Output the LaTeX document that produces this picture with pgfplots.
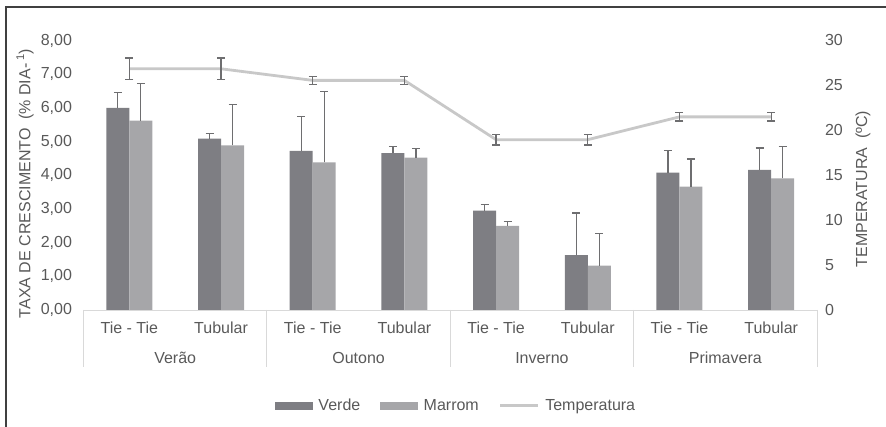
\documentclass[border=0pt]{standalone}
\usepackage{fontspec}
\setmainfont{Liberation Sans}
\usepackage{pgfplots}
\usepackage{pgfplotstable}
\pgfplotsset{compat=1.18}
\definecolor{verde}{RGB}{126,126,131}
\definecolor{marrom}{RGB}{166,166,169}
\definecolor{tempc}{RGB}{200,200,200}
\definecolor{errc}{RGB}{110,110,112}
\definecolor{txt}{RGB}{89,89,89}
\definecolor{gridc}{RGB}{217,217,217}
\newcommand{\fs}{\fontsize{16}{19}\selectfont}

\pgfplotstableread{
x verde ve marrom me temp te
0 6.00 0.45 5.62 1.11 26.85 1.2
1 5.09 0.15 4.89 1.21 26.85 1.2
2 4.72 1.02 4.38 2.10 25.56 0.45
3 4.66 0.20 4.52 0.27 25.56 0.45
4 2.95 0.18 2.50 0.12 18.96 0.6
5 1.63 1.25 1.32 0.96 18.96 0.6
6 4.08 0.65 3.66 0.82 21.50 0.45
7 4.16 0.65 3.91 0.95 21.50 0.45
}\data

\begin{document}
\begin{tikzpicture}[x=1pt,y=1pt]
\useasboundingbox (0,0) rectangle (886,427);
\draw[line width=1.3pt, black!75] (6,0) -- (6,420) -- (886,420);
\begin{axis}[
  at={(83.5pt,117pt)}, anchor=south west,
  scale only axis, width=733.5pt, height=269.5pt,
  xmin=-0.5, xmax=7.5, ymin=0, ymax=8,
  ybar=0pt, bar width=23pt,
  axis x line*=bottom, axis y line*=left,
  y axis line style={draw=none},
  x axis line style={draw=gridc, line width=0.8pt, -},
  xtick={0,...,7},
  xticklabels={Tie - Tie, Tubular, Tie - Tie, Tubular, Tie - Tie, Tubular, Tie - Tie, Tubular},
  ytick={0,1,...,8},
  major tick length=0pt,
  tick label style={font=\fs, text=txt},
  /pgf/number format/assume math mode=true,
  yticklabel style={/pgf/number format/fixed, /pgf/number format/fixed zerofill,
    /pgf/number format/precision=2, /pgf/number format/use comma, xshift=-8pt},
  xticklabel style={anchor=center, yshift=-18pt},
  clip=false,
  enlargelimits=false,
]
\addplot[fill=verde, draw=none,
  error bars/.cd, y dir=plus, y explicit,
  error bar style={errc, line width=1.3pt},
  error mark options={errc, line width=1.3pt, rotate=90, mark size=4pt}]
  table[x=x, y=verde, y error=ve]{\data};
\addplot[fill=marrom, draw=none,
  error bars/.cd, y dir=plus, y explicit,
  error bar style={errc, line width=1.3pt},
  error mark options={errc, line width=1.3pt, rotate=90, mark size=4pt}]
  table[x=x, y=marrom, y error=me]{\data};
\pgfplotsinvokeforeach{-0.5,1.5,3.5,5.5,7.5}{
  \draw[gridc, line width=0.8pt] (axis cs:#1,0) -- ([yshift=-57pt]axis cs:#1,0);
}
\node[font=\fs, text=txt] at ([yshift=-48pt]axis cs:0.5,0) {Verão};
\node[font=\fs, text=txt] at ([yshift=-48pt]axis cs:2.5,0) {Outono};
\node[font=\fs, text=txt] at ([yshift=-48pt]axis cs:4.5,0) {Inverno};
\node[font=\fs, text=txt] at ([yshift=-48pt]axis cs:6.5,0) {Primavera};
\end{axis}
\begin{axis}[
  at={(83.5pt,117pt)}, anchor=south west,
  scale only axis, width=733.5pt, height=269.5pt,
  xmin=-0.5, xmax=7.5, ymin=0, ymax=30,
  axis y line*=right, axis x line=none,
  y axis line style={draw=none},
  ytick={0,5,...,30},
  major tick length=0pt,
  tick label style={font=\fs, text=txt},
  /pgf/number format/assume math mode=true,
  yticklabel style={xshift=4.5pt},
  clip=false,
  enlargelimits=false,
  legend columns=3,
  legend style={at={(0.508,-0.355)}, anchor=center, draw=none, fill=none,
    font=\fs, text=txt,
    /tikz/every odd column/.append style={column sep=4pt},
    /tikz/every even column/.append style={column sep=18pt}},
]
\addlegendimage{legend image code/.code={\fill[verde] (0pt,-3.5pt) rectangle (37pt,3.5pt);}}
\addlegendentry{Verde}
\addlegendimage{legend image code/.code={\fill[marrom] (0pt,-3.5pt) rectangle (37pt,3.5pt);}}
\addlegendentry{Marrom}
\addplot[tempc, line width=2.8pt, mark=none,
  legend image code/.code={\draw[tempc, line width=2.5pt] (0pt,0pt) -- (38pt,0pt);},
  error bars/.cd, y dir=both, y explicit,
  error bar style={errc, line width=1.3pt},
  error mark options={errc, line width=1.3pt, rotate=90, mark size=4pt}]
  table[x=x, y=temp, y error=te]{\data};
\addlegendentry{Temperatura}
\end{axis}
\node[rotate=90, font=\fs, text=txt] at (25,243.5) {TAXA DE CRESCIMENTO\ \ (\% DIA-\,\textsuperscript{1})};
\node[rotate=90, font=\fs, text=txt] at (863,238) {TEMPERATURA\ \ (ºC)};
\end{tikzpicture}
\end{document}
